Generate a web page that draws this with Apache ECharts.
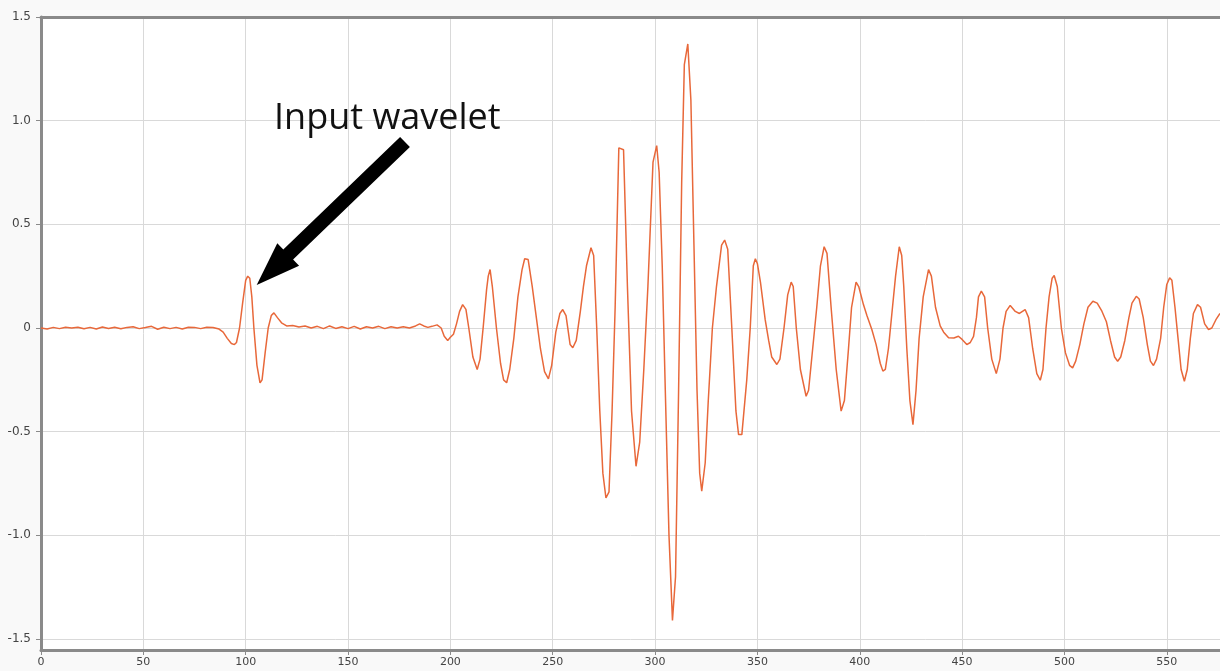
<!DOCTYPE html>
<html>
<head>
<meta charset="utf-8">
<script src="https://cdn.jsdelivr.net/npm/echarts@6/dist/echarts.min.js"></script>
<style>
html,body{margin:0;padding:0;background:#f9f9f9;}
#chart{width:1220px;height:671px;}
</style>
</head>
<body>
<div id="chart"></div>
<script>
// sample positions (x) and amplitudes (y)
const xs = [0,3,6,9,12,15,18,21,24,27,30,33,36,39,42,45,48,51,54,57,60,63,66,69,72,75,78,81,84,87,
89,91,93,94.5,95.5,97,98.5,100,101,102,103,104,105.5,107,108,109.5,111,112.5,113.8,115.5,117.5,120,123,126,129,132,135,138,141,144,147,150,153,156,159,162,165,168,171,174,177,180,183,185,187,189,191,193.5,195.5,197,198.7,200,201.5,203,204.5,206,207.6,209,211,213.1,214.5,216,217.7,218.5,219.4,220.5,222.5,224.5,226,227.5,229,231,233,235,236.3,238,240,242,244,246,247.9,249.5,251.5,253.5,254.9,256.5,258.5,259.8,261.5,263.5,265,266.5,268.7,270,271.5,273,274.5,276,277.5,279,280.5,282.3,284.6,286.5,288.5,290.7,292.5,294.5,296.5,299,300.8,302,303.5,305,306.8,308.5,310,311.5,313,314.3,316,317.5,319,320.5,321.8,322.8,324.5,326,328,330,332.5,334,335.5,337.5,339.5,340.8,342.4,344.8,346.5,348,349,350,351.5,353.8,355.5,357,359.5,361,363,364.8,366.5,367.5,369,371,373.8,375,377,379,380.8,382.6,384,386,388.5,390.9,392.5,394.5,396,398.2,399.5,401.8,403.5,405.9,408,410,411.3,412.5,414,416,417.5,419.3,420.5,421.5,423,424.5,426,427.5,429,431,433.6,435,437,439.3,441,443.4,446,448.2,450,452.3,454,455.6,457,458,459.4,461,462.5,464.5,466.7,468.5,470,471.5,473.5,476,478,480.8,482.5,484.5,486.5,488.2,489.5,491,492.5,494,495,496.5,498.5,500.5,502.5,504,505.5,507.5,509.5,511.5,513.9,516,518.3,520.5,522.5,524.5,526,527.5,529.5,531.5,533,535.1,536.5,538.5,540.5,542,543.5,545,547,548.5,550,551.4,552.5,554,555.5,557,558.6,560,561.5,563,565,566.5,568.5,570.4,572,574,576];
const ys = [0.0,-0.005,0.003,-0.003,0.004,0.0,0.004,-0.004,0.003,-0.005,0.005,-0.002,0.004,-0.004,0.003,0.006,-0.003,0.002,0.008,-0.006,0.004,-0.003,0.003,-0.005,0.004,0.003,-0.003,0.004,0.002,-0.005,
-0.02,-0.05,-0.075,-0.08,-0.07,0.0,0.12,0.23,0.25,0.24,0.15,0.0,-0.18,-0.265,-0.25,-0.12,0.0,0.06,0.073,0.05,0.025,0.01,0.012,0.005,0.01,0.0,0.008,-0.003,0.01,-0.002,0.006,-0.003,0.008,-0.005,0.006,0.0,0.008,-0.003,0.006,0.0,0.006,0.0,0.01,0.02,0.01,0.003,0.008,0.015,0.0,-0.04,-0.06,-0.045,-0.03,0.02,0.08,0.113,0.09,0.0,-0.14,-0.2,-0.15,0.0,0.186,0.25,0.282,0.2,0.0,-0.17,-0.25,-0.264,-0.2,-0.05,0.15,0.28,0.334,0.33,0.2,0.05,-0.1,-0.21,-0.245,-0.18,-0.02,0.07,0.089,0.06,-0.08,-0.095,-0.06,0.08,0.2,0.3,0.387,0.35,0.0,-0.4,-0.7,-0.82,-0.79,-0.4,0.1,0.869,0.86,0.2,-0.4,-0.667,-0.55,-0.2,0.2,0.8,0.88,0.75,0.3,-0.3,-1.0,-1.41,-1.2,-0.3,0.7,1.27,1.37,1.1,0.4,-0.3,-0.7,-0.787,-0.65,-0.35,0.0,0.2,0.4,0.424,0.38,0.0,-0.4,-0.514,-0.514,-0.25,0.0,0.3,0.334,0.31,0.22,0.04,-0.06,-0.14,-0.176,-0.15,0.0,0.16,0.221,0.2,0.0,-0.2,-0.329,-0.3,-0.1,0.1,0.3,0.392,0.36,0.1,-0.2,-0.401,-0.35,-0.1,0.1,0.221,0.2,0.113,0.06,-0.007,-0.08,-0.17,-0.208,-0.2,-0.1,0.1,0.25,0.392,0.35,0.2,-0.1,-0.35,-0.466,-0.3,-0.05,0.15,0.282,0.25,0.1,0.01,-0.02,-0.047,-0.048,-0.04,-0.055,-0.08,-0.07,-0.04,0.05,0.15,0.178,0.15,0.0,-0.15,-0.22,-0.15,0.0,0.08,0.109,0.08,0.07,0.089,0.05,-0.1,-0.22,-0.252,-0.2,0.0,0.15,0.24,0.253,0.2,0.0,-0.12,-0.18,-0.192,-0.16,-0.08,0.02,0.1,0.129,0.12,0.081,0.03,-0.06,-0.14,-0.16,-0.14,-0.06,0.05,0.12,0.153,0.14,0.05,-0.08,-0.16,-0.181,-0.15,-0.05,0.1,0.21,0.242,0.23,0.1,-0.05,-0.2,-0.257,-0.2,-0.05,0.07,0.113,0.1,0.02,-0.007,0.0,0.04,0.07];
const annotationText = 'Input wavelet';

const chart = echarts.init(document.getElementById('chart'));
const axisGray = '#8a8a8a';
chart.setOption({
  backgroundColor:'#f9f9f9',
  animation:false,
  grid:{left:41, right:0, top:17, bottom:21, show:true, backgroundColor:'#ffffff', borderWidth:0},
  xAxis:[{
    type:'value', min:0, max:576, interval:50,
    axisLine:{show:true, onZero:false, lineStyle:{color:axisGray, width:3}},
    axisTick:{show:true, length:5, lineStyle:{color:axisGray, width:1}},
    axisLabel:{margin:7, showMaxLabel:false, color:'#444', fontSize:11, fontFamily:'DejaVu Sans'},
    splitLine:{show:true, lineStyle:{color:'#d9d9d9', width:1}}
  },{
    type:'value', min:0, max:576, position:'top',
    axisLine:{show:true, onZero:false, lineStyle:{color:axisGray, width:3}},
    axisTick:{show:false}, axisLabel:{show:false}, splitLine:{show:false}
  }],
  yAxis:{
    type:'value', min:-1.553, max:1.5,
    axisLine:{show:true, onZero:false, lineStyle:{color:axisGray, width:3}},
    axisTick:{show:true, length:5, lineStyle:{color:axisGray, width:1}},
    axisLabel:{margin:10, showMinLabel:false, color:'#444', fontSize:12, fontFamily:'DejaVu Sans', formatter:v=>v===0?'0':v.toFixed(1)},
    splitLine:{show:true, lineStyle:{color:'#d9d9d9', width:1}}
  },
  series:[{
    type:'line', xAxisIndex:0,
    data: xs.map((x,i)=>[x, ys[i]]),
    showSymbol:false, symbol:'none',
    lineStyle:{color:'#e8683a', width:1.5},
    z:3
  }],
  graphic:[
    {type:'polygon', z:10, shape:{points:[[256.7,285],[277.3,243.3],[283.3,249.5],[400.1,137],[409.9,147],[293.1,259.5],[299.1,265.7]]}, style:{fill:'#000'}},
    {type:'text', z:10, x:274, y:119, style:{text:annotationText, fill:'#111', font:'36px "Open Sans"', verticalAlign:'middle'}}
  ]
});
</script>
</body>
</html>
